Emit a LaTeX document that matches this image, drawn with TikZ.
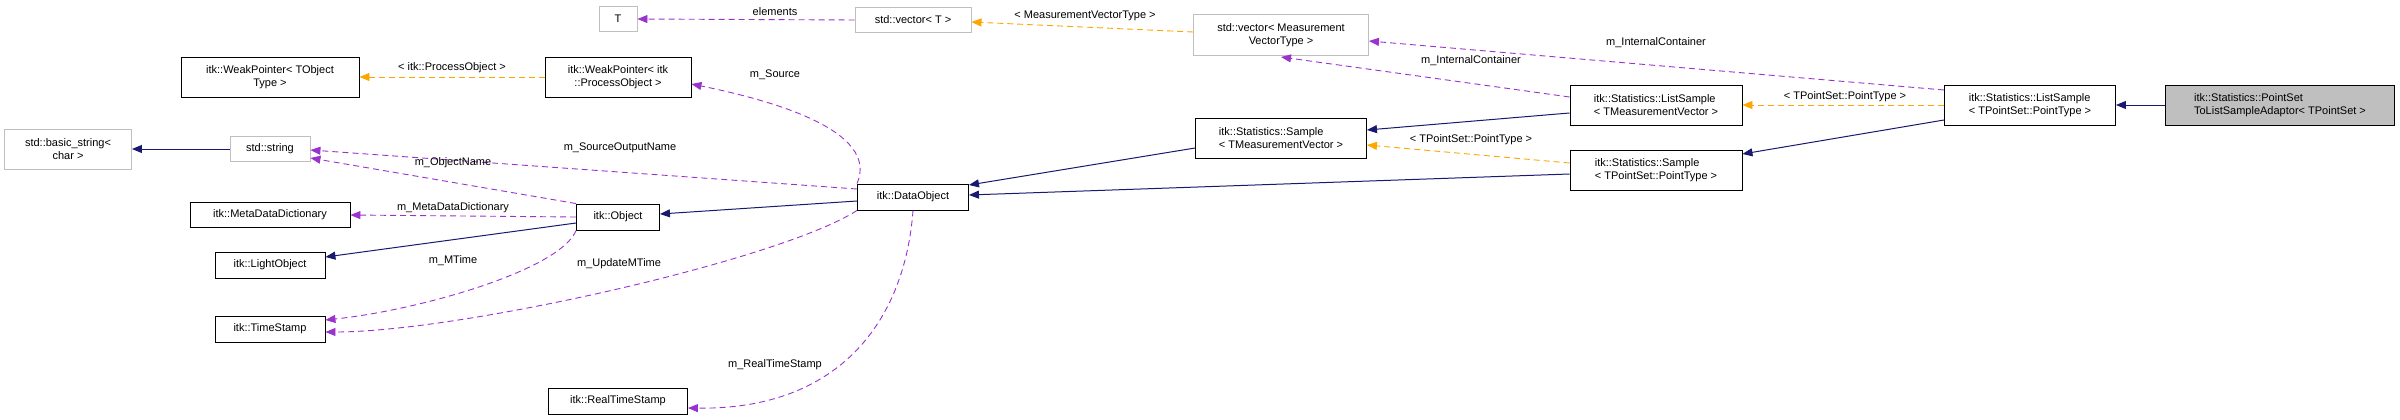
\documentclass[tikz,border=0pt]{standalone}
\usepackage{fontspec}
\setmainfont{Liberation Sans}
\usetikzlibrary{arrows.meta}
\definecolor{inh}{HTML}{191970}
\definecolor{use}{HTML}{9A32CD}
\definecolor{tpl}{HTML}{FFA500}
\definecolor{gry}{HTML}{BFBFBF}
\tikzset{
  cls/.style={draw=black,line width=0.9pt,inner sep=2pt,align=center,font=\fontsize{11}{13}\selectfont},
  ext/.style={cls,draw=gry},
  lbl/.style={font=\fontsize{11}{13}\selectfont,inner sep=1pt},
  tip/.style={-{Triangle[length=10pt,width=8pt,sep=0pt]}},
  inherit/.style={tip,draw=inh,line width=1pt},
  member/.style={tip,draw=use,line width=0.9pt,dash pattern=on 6pt off 4pt},
  templ/.style={tip,draw=tpl,line width=0.9pt,dash pattern=on 6pt off 4pt},
}
\begin{document}
\begin{tikzpicture}[x=1pt,y=-1pt]
\useasboundingbox (0,0) rectangle (2400,420);
% classes
\node[ext,minimum width=38pt,minimum height=25pt] (T) at (618,19) {T};
\node[ext,minimum width=116pt,minimum height=25pt] (vecT) at (913,20) {std::vector< T >};
\node[ext,minimum width=175pt,minimum height=41pt] (vecM) at (1281,35) {std::vector< Measurement\\VectorType >};
\node[cls,minimum width=178pt,minimum height=40pt] (wpT) at (270,77) {itk::WeakPointer< TObject\\Type >};
\node[cls,minimum width=146pt,minimum height=40pt] (wpP) at (618,77) {itk::WeakPointer< itk\\::ProcessObject >};
\node[ext,minimum width=127pt,minimum height=40pt] (bstr) at (68,149) {std::basic\_string<\\char >};
\node[ext,minimum width=80pt,minimum height=25pt] (str) at (270,149) {std::string};
\node[cls,minimum width=160pt,minimum height=25pt] (mdd) at (270,215) {itk::MetaDataDictionary};
\node[cls,minimum width=83pt,minimum height=26pt] (obj) at (618,217) {itk::Object};
\node[cls,minimum width=110pt,minimum height=26pt] (lobj) at (270,265) {itk::LightObject};
\node[cls,minimum width=110pt,minimum height=26pt] (ts) at (270,329) {itk::TimeStamp};
\node[cls,minimum width=139pt,minimum height=26pt] (rts) at (618,401) {itk::RealTimeStamp};
\node[cls,minimum width=111pt,minimum height=26pt] (do) at (913,197) {itk::DataObject};
\node[cls,minimum width=171pt,minimum height=40pt,align=left] (smpM) at (1281,138) {itk::Statistics::Sample\\< TMeasurementVector >};
\node[cls,minimum width=172pt,minimum height=40pt,align=left] (lsM) at (1656,105) {itk::Statistics::ListSample\\< TMeasurementVector >};
\node[cls,minimum width=172pt,minimum height=40pt,align=left] (smpP) at (1656,170) {itk::Statistics::Sample\\< TPointSet::PointType >};
\node[cls,minimum width=171pt,minimum height=40pt,align=left] (lsP) at (2030,105) {itk::Statistics::ListSample\\< TPointSet::PointType >};
\node[cls,fill=gry,minimum width=229pt,minimum height=40pt,align=left] (adp) at (2280,105) {itk::Statistics::PointSet\\ToListSampleAdaptor< TPointSet >};
% inheritance
\draw[inherit] (bstr-|str.west) -- (bstr.east);
\draw[inherit] (do.west|-0,201) -- (obj.east|-0,214);
\draw[inherit] (obj.west|-0,223) -- (lobj.east|-0,257);
\draw[inherit] (smpM.west|-0,148) -- (do.east|-0,185);
\draw[inherit] (smpP.west|-0,174) -- (do.east|-0,195);
\draw[inherit] (lsM.west|-0,113) -- (smpM.east|-0,130);
\draw[inherit] (lsP.west|-0,120) -- (smpP.east|-0,154);
\draw[inherit] (adp.west) -- (lsP.east);
% template instances
\draw[templ] (vecM.west|-0,32) -- (vecT.east|-0,22);
\draw[templ] (wpP.west) -- (wpT.east);
\draw[templ] (smpP.west|-0,163) -- (smpM.east|-0,145);
\draw[templ] (lsP.west) -- (lsM.east);
% members
\draw[member] (vecT.west) -- (T.east);
\draw[member] (do.north west) .. controls (880,130) and (770,100) .. (wpP.east|-0,84);
\draw[member] (do.west|-0,189) -- (str.east|-0,150);
\draw[member] (obj.north west) -- (str.east|-0,158);
\draw[member] (obj.west) -- (mdd.east);
\draw[member] (obj.south west) .. controls (560,270) and (420,310) .. (ts.east|-0,320);
\draw[member] (do.south west) .. controls (780,260) and (460,332) .. (ts.east|-0,332);
\draw[member] (do.south) .. controls (905,320) and (840,410) .. (rts.east|-0,408);
\draw[member] (lsP.west|-0,90) -- (vecM.east|-0,41);
\draw[member] (lsM.west|-0,97) -- (vecM.south|-0,57);
% labels
\node[lbl] (lElem) at (775,12) {elements};
\node[lbl] (lMvt) at (1085,16) {< MeasurementVectorType >};
\node[lbl] (lPo) at (452,68) {< itk::ProcessObject >};
\node[lbl] (lSrc) at (775,75) {m\_Source};
\node[lbl] (lSon) at (620,148) {m\_SourceOutputName};
\node[lbl] (lOn) at (453,163) {m\_ObjectName};
\node[lbl] (lMdd) at (453,208) {m\_MetaDataDictionary};
\node[lbl] (lMt) at (453,261) {m\_MTime};
\node[lbl] (lUmt) at (619,264) {m\_UpdateMTime};
\node[lbl] (lRts) at (775,365) {m\_RealTimeStamp};
\node[lbl] (lIcA) at (1656,43) {m\_InternalContainer};
\node[lbl] (lIcB) at (1471,61) {m\_InternalContainer};
\node[lbl] (lPtA) at (1845,97) {< TPointSet::PointType >};
\node[lbl] (lPtB) at (1471,140) {< TPointSet::PointType >};
\end{tikzpicture}
\end{document}
